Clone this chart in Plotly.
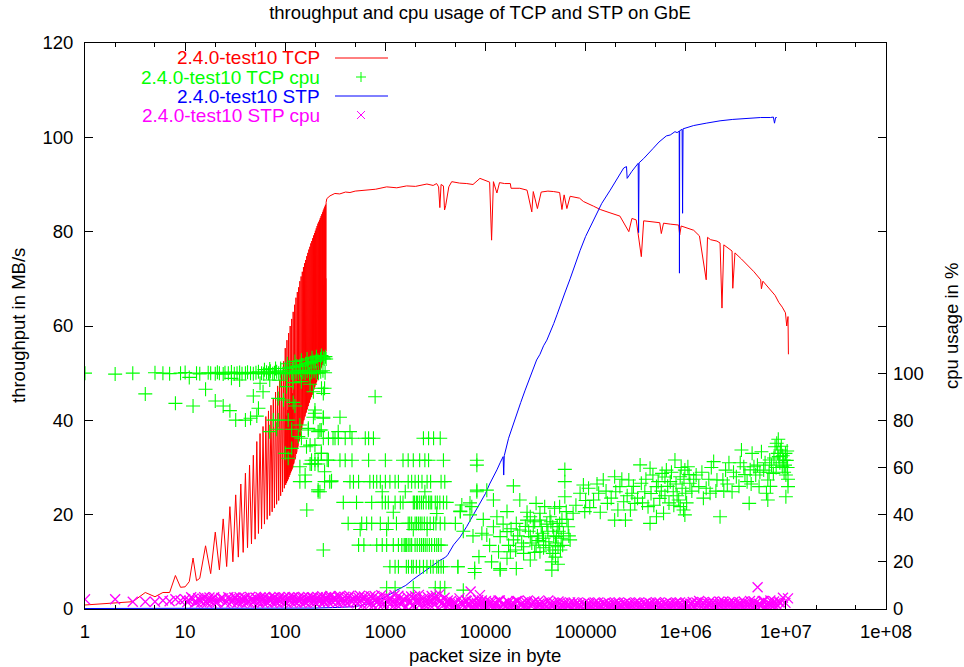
import plotly.graph_objects as go

# ---------------- data ----------------
TCP_X = [1, 2, 3, 4, 5, 6, 7, 8, 9, 10, 11, 12, 13, 14, 16, 18, 20, 22, 24, 26, 28, 30,
         32, 34, 36, 38, 40, 42, 44, 46, 48, 50, 52, 54, 56, 58, 60, 62, 64, 66, 68, 70,
         72, 74, 76, 78, 80, 82, 84, 86, 88, 90, 92, 94, 96, 98,
         100, 101, 102, 103, 104, 105, 106, 107, 108, 109, 110, 111, 112, 113, 114, 115,
         116, 117, 118, 119, 120, 121, 122, 123, 124, 125, 126, 127, 128, 129, 130, 131,
         132, 133, 134, 135, 136, 137, 138, 139, 140, 141, 142, 143, 144, 145, 146, 147,
         148, 149, 150, 151, 152, 153, 154, 155, 156, 157, 158, 159, 160, 161, 162, 163,
         164, 165, 166, 167, 168, 169, 170, 171, 172, 173, 174, 175, 176, 177, 178, 179,
         180, 181, 182, 183, 184, 185, 186, 187, 188, 189, 190, 191, 192, 193, 194, 195,
         196, 197, 198, 199, 200, 201, 202, 203, 204, 205, 206, 207, 208, 209, 210, 211,
         212, 213, 214, 215, 216, 217, 218, 219, 220, 221, 222, 223, 224, 225, 226, 227,
         228, 229, 230, 231, 232, 233, 234, 235, 236, 237, 238, 239, 240, 241, 242, 243,
         244, 245, 246, 247, 248, 249, 250, 251, 252, 253, 254, 255, 256,
         260, 280, 313, 350, 400, 443, 500, 650, 800, 1030, 1300, 1630, 2000, 2600, 3000,
         3250, 3400, 3500, 3600, 3800, 3900, 4000, 4300, 4600, 5500, 6500, 7500, 8800,
         10000, 11000, 11500, 12000, 13000, 13800, 15500, 17700, 18000, 22000, 26000,
         29000, 30000, 33000, 36000, 42000, 48000, 55000, 58000, 61000, 65000, 70000,
         87000, 95000, 120000, 140000, 175000, 220000, 270000, 290000, 320000, 360000,
         380000, 450000, 550000, 570000, 600000, 700000, 850000, 870000, 900000, 1.2e6,
         1.37e6, 1.6e6, 1.65e6, 1.77e6, 2.05e6, 2.2e6, 2.3e6, 2.4e6, 2.9e6, 2.95e6, 3.1e6,
         3.6e6, 4.2e6, 4.8e6, 5.6e6, 5.7e6, 5.9e6, 6.5e6, 7.0e6, 7.8e6, 8.5e6, 9.2e6,
         9.9e6, 1.02e7, 1.05e7, 1.06e7]
TCP_Y = [0.85, 1.3, 1.55, 3.5, 2.6, 3.5, 3.5, 7.1, 4.6, 4.7, 5.8, 10.8, 6.0, 6.5, 13.4, 7.5,
         16.3, 8.3, 19.1, 9.0, 21.7, 10.0, 24.2, 11.0, 26.5, 12.0, 28.8, 13.0, 30.5, 13.8,
         32.6, 14.8, 35.5, 16.0, 37.2, 17.0, 38.7, 18.0, 40.8, 19.0, 42.0, 19.8, 43.2, 20.6,
         44.5, 21.4, 46.0, 22.2, 47.3, 23.0, 48.6, 24.0, 50.0, 24.8, 52.5, 25.6,
         55.3, 26.3, 41.0, 26.7, 57.0, 27.1, 42.2, 27.5, 58.5, 28.0, 43.4, 28.4,
         60.0, 28.8, 44.5, 29.2, 61.5, 29.6, 45.7, 30.0, 63.0, 30.7, 47.0, 31.2,
         64.5, 31.7, 48.2, 32.3, 66.0, 32.9, 49.6, 33.5, 67.2, 34.2, 50.8, 34.8,
         68.2, 35.5, 52.0, 36.1, 69.5, 36.7, 53.2, 37.3, 70.5, 37.9, 54.3, 38.5,
         71.5, 39.0, 55.4, 39.5, 72.5, 40.0, 56.3, 40.4, 73.3, 40.8, 57.1, 41.2,
         74.0, 41.6, 57.9, 42.0, 74.8, 42.3, 58.6, 42.7, 75.5, 43.0, 59.3, 43.4,
         76.2, 43.7, 60.0, 44.1, 76.8, 44.4, 60.6, 44.7, 77.5, 44.9, 61.2, 45.2,
         78.0, 45.4, 61.7, 45.7, 78.6, 45.9, 62.3, 46.2, 79.2, 46.5, 62.9, 46.8,
         79.7, 47.1, 63.4, 47.4, 80.2, 47.6, 63.9, 47.9, 80.7, 48.1, 64.4, 48.4,
         81.2, 48.7, 65.0, 49.0, 81.7, 49.2, 65.5, 49.5, 82.1, 49.7, 66.0, 50.0,
         82.5, 50.2, 66.4, 50.5, 82.9, 50.7, 66.8, 51.0, 83.3, 51.2, 67.3, 51.5,
         83.7, 51.7, 67.7, 52.0, 84.1, 52.2, 68.2, 52.5, 84.5, 52.7, 68.6, 53.0,
         84.9, 53.2, 69.1, 53.5, 85.3, 53.7, 69.5, 54.0, 85.7, 54.3, 70.1, 54.6, 86.2,
         87.0, 87.6, 88.1, 88.0, 88.4, 88.3, 88.6, 88.8, 89.0, 89.5, 89.3, 89.7, 89.6, 90.1,
         89.8, 90.2, 89.5, 85.1, 90.0, 89.7, 84.6, 85.5, 89.5, 90.6, 90.3, 90.2, 90.0, 91.3,
         90.8, 90.5, 78.2, 90.6, 88.2, 90.4, 90.2, 90.2, 89.2, 89.2, 88.8, 84.2, 88.5, 84.9,
         88.4, 88.6, 88.5, 88.3, 84.7, 87.8, 84.9, 87.5, 87.1, 86.4, 85.4, 84.7, 84.0, 83.3,
         80.0, 82.8, 82.5, 74.7, 82.3, 82.1, 81.9, 79.6, 81.8, 81.6, 81.4, 79.3, 81.2, 80.3,
         79.1, 69.8, 78.8, 78.3, 78.0, 77.6, 63.8, 77.2, 75.9, 68.0, 75.5, 74.2, 72.8, 71.5,
         69.8, 67.9, 69.5, 68.5, 67.6, 66.5, 65.0, 64.0, 62.8, 60.0, 62.0, 54.0]

TCP_CPU_X = [1, 2, 3, 5, 6, 7, 9, 10, 13, 14, 17, 18, 20, 21, 22, 24, 25, 27, 29, 31, 33, 35,
             37, 40, 42, 45, 48, 51, 54, 58, 61, 65, 68, 71, 75, 78, 82, 86, 90, 95, 100, 105,
             110, 116, 122, 128, 135, 142, 150, 158, 166, 175, 184, 194, 204, 215, 226, 238, 250,
             62, 70, 80, 90, 100, 110, 120, 130, 140, 150, 160, 170, 180, 190, 200, 212, 225,
             240, 252, 256, 105, 125, 145, 165, 185, 205, 230, 245,
             4, 8, 11, 12, 16, 20, 24, 28, 29, 32, 35, 40, 45, 48, 52, 54, 56, 60, 70, 85, 89,
             96, 103, 120, 120, 125, 145, 177, 191, 240, 247,
             70, 76, 85, 82, 116, 135, 145, 140, 170, 163, 198, 213, 198, 191, 229, 240, 100,
             107, 116, 140, 158, 177, 198, 213, 229, 247, 262, 290, 213, 300, 107, 164, 240,
             222, 278, 230, 198, 240, 352, 170, 222, 338, 443, 177, 230, 183, 790,
             240, 270, 314, 339, 397, 464, 630, 680, 760, 2400, 2700, 3030, 3530,
             183, 198, 213, 270, 352, 397, 464, 680, 1000, 1500, 1690, 1900, 2200, 2480, 2700,
             3800, 8200,
             140, 158, 247, 289, 443, 480, 540, 700, 760, 820, 890, 1000, 1110, 1250, 1350,
             1690, 1830, 1980, 2140, 2320, 2610, 2830, 3600, 3920,
             213, 930, 1580, 2480, 8200,
             380, 515, 730, 930, 1000, 1070, 1250, 1410, 1500, 1900, 2040, 2200, 2400, 2700,
             2900, 3150, 3800, 4100, 5600, 7000, 1950, 2100, 2300, 2550, 2800, 3300, 3500,
             425, 580, 650, 730, 890, 1070, 1290, 1690, 1830, 1980, 2140, 2320, 2610, 3030,
             3530, 3920, 1750, 2050, 2230, 2450, 2800, 3200, 1200, 3260,
             560, 1030, 1900, 2610,
             540, 610, 820, 930, 1030, 1200, 1350, 1460, 1580, 1690, 1830, 1980, 2200, 2400,
             2610, 2900, 3260, 3600, 6000, 7500, 1540, 1620, 1760, 2080, 2300, 2500, 2750,
             3100, 3400,
             1110, 1250, 1350, 1620, 1830, 2040, 2400, 2830, 3260, 3600, 5300, 7800, 1700,
             1900, 2200, 2600, 3000, 3400, 3800,
             1030, 1250, 1900, 3150, 3530, 3920, 6000,
             8200, 19000, 62000, 62000, 8600, 11500, 14000, 7800, 5300, 20300, 46000, 46000,
             5800, 7300, 8200, 10300, 12000, 16400, 22000, 32000, 35000, 49000, 62000, 75000,
             98000, 12000, 14000, 16400, 19000, 22000, 24000, 26000, 28000, 30000, 32000,
             35000, 37000, 40000, 44000, 47000, 51000, 53000, 55000, 60000, 64000, 67000,
             70000, 17700, 24000, 35000, 47000, 13000, 10300, 9200, 20300, 28000, 39000,
             55000, 13500, 16400, 28000, 5000, 5600, 7000, 14000,
             15000, 18000, 21000, 23000, 25000, 27000, 29000, 31000, 33000, 34000, 36000,
             38000, 42000, 43000, 45000, 48000, 50000, 52000, 54000, 57000, 58000, 59000,
             65000, 68000, 41000, 26000, 17000, 20000, 31000, 38000, 44000, 50000, 56000,
             53000, 11000, 9500,
             88000, 95000, 107000, 120000, 135000, 150000, 165000, 195000, 200000, 220000,
             240000, 250000, 270000, 290000, 310000, 350000, 360000, 390000, 420000, 440000,
             470000, 510000, 550000, 600000, 640000, 700000, 750000, 780000, 850000, 880000,
             920000, 950000, 980000, 1.0e6, 1.05e6, 1.1e6, 980000, 510000, 195000, 440000,
             580000, 880000,
             80000, 100000, 110000, 130000, 140000, 160000, 180000, 210000, 230000, 260000,
             280000, 300000, 330000, 370000, 400000, 450000, 480000, 530000, 570000, 620000,
             660000, 680000, 720000, 800000, 820000, 900000, 960000, 1.02e6, 1.08e6, 1.15e6,
             1.2e6, 620000, 760000,
             1.27e6, 1.6e6, 1.9e6, 2.2e6, 2.35e6, 2.5e6, 2.9e6, 3.2e6, 3.6e6, 3.8e6, 4.1e6,
             4.3e6, 4.6e6, 5.0e6, 5.4e6, 5.7e6, 6.0e6, 6.4e6, 6.6e6, 6.9e6, 7.5e6, 7.8e6,
             8.1e6, 8.5e6, 8.8e6, 9.2e6, 9.5e6, 1.0e7, 1.05e7, 1.0e7, 9.9e6, 6.6e6, 4.8e6,
             2.05e6, 1.75e6, 1.35e6,
             1.45e6, 1.5e6, 1.7e6, 1.8e6, 2.0e6, 2.4e6, 2.6e6, 2.7e6, 3.0e6, 3.4e6, 3.5e6,
             3.9e6, 4.4e6, 4.5e6, 5.2e6, 5.5e6, 6.2e6, 6.8e6, 7.2e6, 7.0e6, 8.0e6, 8.3e6,
             8.7e6, 9.0e6, 9.3e6, 9.6e6, 9.8e6, 1.02e7, 1.04e7, 8.4e6, 7.6e6, 1.05e7, 1.03e7]
TCP_CPU_Y = [100.0, 99.6, 100.0, 100.2, 100.0, 99.8, 100.0, 100.3, 100.0, 99.7, 100.2, 100.0,
             99.8, 100.4, 100.0, 99.6, 100.2, 100.0, 100.5, 99.8, 100.0, 100.3, 99.7, 100.0,
             100.4, 100.0, 99.8, 100.2, 100.6, 100.0, 99.7, 100.4, 100.0, 100.8, 99.8, 100.2,
             100.6, 100.0, 101.0, 99.8, 100.4, 100.0, 101.0, 100.2, 99.8, 100.6, 100.0, 101.2,
             100.4, 100.0, 100.8, 99.8, 100.4, 101.0, 100.2, 100.0, 100.6, 101.0, 100.2,
             101.5, 101.8, 102.0, 102.0, 102.0, 102.5, 102.5, 103.0, 103.0, 103.5, 104.0,
             104.0, 104.5, 105.0, 105.0, 105.5, 106.0, 106.5, 107.0, 106.0, 104.0, 105.0,
             105.5, 106.0, 106.5, 107.0, 107.5, 106.0,
             91.2, 87.2, 98.2, 86.1, 93.2, 88.2, 86.1, 84.1, 97.8, 80.1, 97.1, 80.1, 80.9,
             90.3, 81.8, 85.1, 95.7, 92.1, 97.1, 89.3, 97.0, 88.6, 94.3, 96.0, 87.6, 86.1,
             96.4, 95.3, 92.1, 91.4, 93.6,
             75.2, 80.1, 80.1, 76.2, 76.2, 73.1, 72.4, 78.0, 75.9, 68.8, 69.5, 75.2, 83.0,
             81.3, 75.9, 81.3, 66.0, 63.9, 68.1, 60.3, 56.8, 61.5, 61.5, 61.5, 66.0, 58.2,
             63.2, 54.4, 50.5, 72.4, 80.1, 42.0, 25.0, 49.7, 54.0, 93.6, 84.4, 80.9, 81.3,
             76.6, 75.9, 75.2, 75.2, 69.5, 66.0, 61.5, 90.0,
             72.4, 72.4, 72.4, 72.4, 72.4, 72.4, 72.4, 72.4, 72.4, 72.4, 72.4, 72.4, 72.4,
             63.1, 63.1, 63.1, 63.1, 63.1, 63.1, 63.1, 63.1, 63.1, 63.1, 63.1, 63.1, 63.1,
             63.1, 63.1, 63.1, 63.1,
             54.0, 54.0, 54.0, 54.0, 54.0, 54.0, 54.0, 54.0, 54.0, 54.0, 54.0, 54.0, 54.0,
             54.0, 54.0, 54.0, 54.0, 54.0, 54.0, 54.0, 54.0, 54.0, 54.0, 54.0,
             49.7, 49.7, 49.7, 49.7, 49.7,
             45.2, 45.2, 45.2, 45.2, 45.2, 45.2, 45.2, 45.2, 45.2, 45.2, 45.2, 45.2, 45.2,
             45.2, 45.2, 45.2, 45.2, 45.2, 41.5, 45.0, 45.2, 45.2, 45.2, 45.2, 45.2, 45.2,
             45.2,
             36.3, 36.3, 36.3, 36.3, 36.3, 36.3, 36.3, 36.3, 36.3, 36.3, 36.3, 36.3, 36.3,
             36.3, 36.3, 36.3, 36.3, 36.3, 36.3, 36.3, 36.3, 36.3, 41.0, 40.5,
             33.7, 33.7, 33.7, 33.7,
             27.1, 27.1, 27.1, 27.1, 27.1, 27.1, 27.1, 27.1, 27.1, 27.1, 27.1, 27.1, 27.1,
             27.1, 27.1, 27.1, 27.1, 27.1, 33.0, 31.0, 27.1, 27.1, 27.1, 27.1, 27.1, 27.1,
             27.1, 27.1, 27.1,
             17.9, 17.9, 17.9, 17.9, 17.9, 17.9, 17.9, 17.9, 17.9, 17.9, 17.9, 15.5, 17.9,
             17.9, 17.9, 17.9, 17.9, 17.9, 17.9,
             9.0, 9.0, 9.0, 9.0, 9.0, 9.0, 8.0,
             61.0, 52.2, 59.2, 54.0, 22.2, 20.0, 17.2, 17.2, 17.9, 17.2, 16.5, 20.0, 44.1,
             43.4, 50.4, 50.4, 46.2, 41.3, 46.2, 44.8, 40.6, 42.7, 47.6, 40.6, 41.3, 34.9,
             30.7, 32.8, 29.3, 33.5, 26.4, 37.7, 30.7, 34.9, 27.1, 37.7, 32.1, 28.5, 39.1,
             34.9, 30.7, 26.4, 36.3, 32.1, 41.3, 34.9, 29.3, 24.3, 23.6, 24.3, 23.6, 39.1,
             31.4, 32.1, 36.3, 39.1, 43.4, 43.4, 24.3, 21.5, 20.8, 36.3, 41.3, 39.9, 16.5,
             36.0, 34.0, 31.0, 28.0, 35.0, 33.0, 28.0, 37.0, 31.0, 29.0, 35.0, 30.0, 33.0,
             27.0, 37.0, 31.0, 28.0, 35.0, 33.0, 30.0, 38.0, 27.0, 38.0, 31.0, 36.0, 41.0,
             27.0, 25.0, 24.0, 26.0, 25.0, 22.0, 25.0, 19.0, 27.0, 38.0,
             49.1, 52.6, 51.2, 46.2, 49.1, 54.7, 44.8, 56.1, 49.7, 51.9, 45.5, 37.7, 54.7,
             49.1, 44.8, 61.1, 53.3, 49.7, 43.4, 36.3, 56.8, 51.9, 46.9, 40.6, 58.9, 54.0,
             49.7, 63.2, 46.2, 56.1, 51.2, 42.0, 58.9, 49.1, 60.3, 53.3, 39.9, 39.1, 37.7,
             59.7, 57.5, 43.4,
             44.0, 46.0, 43.0, 53.0, 41.0, 50.0, 47.0, 42.0, 55.0, 48.0, 42.0, 52.0, 47.0,
             45.0, 55.0, 49.0, 44.0, 54.0, 50.0, 48.0, 52.0, 45.0, 58.0, 53.0, 48.0, 60.0,
             55.0, 45.0, 57.0, 50.0, 55.0, 56.0, 44.0,
             56.8, 51.2, 62.5, 39.1, 54.7, 58.9, 49.7, 56.1, 67.4, 60.3, 54.0, 44.8, 66.0,
             56.8, 51.9, 66.7, 58.9, 49.1, 46.2, 63.2, 57.5, 68.8, 70.3, 64.6, 67.4, 60.3,
             63.2, 56.8, 51.9, 47.6, 66.0, 54.7, 60.3, 54.7, 49.1, 51.9,
             58.0, 47.0, 55.0, 60.0, 50.0, 50.0, 53.0, 62.0, 58.0, 52.0, 62.0, 57.0, 59.0,
             53.0, 61.0, 58.0, 62.0, 58.0, 61.0, 52.0, 60.0, 66.0, 62.0, 69.0, 65.0, 58.0,
             61.0, 63.0, 60.0, 72.0, 64.0, 55.0, 67.0]

STP_X = [1, 10, 100, 200, 300, 400, 500, 700, 1000, 1300, 1600, 1900, 2400, 3000, 3500,
         4000, 4200, 4800, 5600, 6500, 7500, 8500, 9000, 10000, 11000, 12000, 13000, 14000,
         15000, 15200, 15400, 17000, 18500, 20400, 22500, 24900, 27000, 28700, 30000, 32400,
         35000, 38000, 41000, 44000, 48000, 52000, 56000, 62000, 70000, 78000, 88000, 100000,
         121000, 145000, 176000, 210000, 240000, 256000, 260000, 290000, 320000, 335000,
         338000, 342000, 380000, 410000, 470000, 540000, 640000, 700000, 780000, 820000,
         860000, 865000, 870000, 920000, 930000, 940000, 980000, 1.2e6, 1.6e6, 2.2e6,
         2.95e6, 4e6, 5.6e6, 7e6, 7.5e6, 7.7e6, 7.9e6, 8.1e6]
STP_Y = [0.1, 0.1, 0.15, 0.2, 0.3, 0.4, 0.5, 1.2, 2.5, 4.0, 5.0, 6.3, 7.8, 9.4, 10.3, 11.0,
         11.5, 13.6, 15.3, 17.5, 19.8, 22.0, 22.8, 24.5, 26.5, 28.0, 29.5, 31.0, 32.3, 28.4,
         32.5, 36.2, 38.5, 41.5, 43.8, 46.4, 48.5, 50.0, 51.0, 52.8, 54.0, 55.8, 57.0, 58.5,
         60.5, 62.5, 64.5, 67.0, 70.0, 73.0, 76.0, 79.0, 82.5, 86.0, 88.8, 91.5, 93.5, 93.8,
         91.3, 92.8, 94.0, 94.5, 79.8, 94.6, 95.5, 96.2, 97.6, 99.0, 100.3, 100.5, 101.2,
         101.0, 101.3, 71.2, 101.4, 101.7, 83.9, 101.8, 101.9, 102.5, 103.0, 103.5, 103.8,
         104.0, 104.2, 104.2, 104.3, 103.0, 104.2, 104.2]

STP_CPU_X = [1, 2, 3, 4, 5, 6, 7, 8, 9, 10, 11, 12, 13, 14, 15, 16, 17, 18, 19, 20, 22, 24,
             26, 28, 30, 32, 34, 36, 38, 40, 43, 46, 49, 52, 55, 58, 61, 64, 68, 72, 76, 80,
             85, 90, 95, 100, 106, 112, 118, 125, 132, 140, 148, 156, 165, 174, 184, 194, 205,
             216, 228, 240, 252,
             262, 275, 290, 305, 320, 340, 360, 380, 400, 425, 450, 480, 510, 540, 575, 610,
             650, 690, 730, 780, 830, 880, 940, 1000,
             1060, 1130, 1200, 1270, 1350, 1430, 1520, 1610, 1710, 1810, 1920, 2040, 2160,
             2290, 2430, 2580, 2740, 2900, 3080, 3270, 3470, 3680, 3900, 4100, 4200,
             4400, 4650, 4900, 5200, 5500, 5800, 6200, 6500, 6900, 7300, 7800, 8200, 8700,
             9200, 9800, 10400, 11000, 11700, 12400, 13100, 13900, 14800, 15700, 16600,
             17600, 18700, 19800, 21000, 22300, 23600, 25000, 26500, 28100, 29800, 31600,
             33500, 35500, 37700, 40000, 42400, 45000, 47700, 50500, 53600, 7100, 8800,
             57000, 60000, 64000, 68000, 72000, 76000, 81000, 86000, 91000, 97000, 103000,
             109000, 116000, 123000, 130000, 138000, 146000, 155000, 165000, 175000, 185000,
             196000, 208000, 221000, 234000, 248000, 263000, 279000, 296000, 314000, 333000,
             353000, 374000, 397000, 421000, 446000, 473000, 502000, 532000, 564000, 598000,
             634000, 673000, 713000, 756000, 802000, 850000, 902000, 956000, 1.01e6, 1.08e6,
             1.14e6, 1.21e6, 1.28e6,
             1.36e6, 1.44e6, 1.53e6, 1.62e6, 1.72e6, 1.82e6, 1.93e6, 2.05e6, 2.17e6, 2.3e6,
             2.44e6, 2.59e6, 2.74e6, 2.91e6, 3.08e6, 3.27e6, 3.47e6, 3.68e6, 3.9e6, 4.13e6,
             4.38e6, 4.65e6, 4.93e6, 5.22e6, 5.54e6, 5.87e6, 6.22e6, 6.6e6, 6.6e6, 7.0e6,
             7.4e6, 7.85e6, 8.3e6, 8.8e6, 9.35e6, 9.9e6, 1.05e7,
             10.5, 11.5, 12.5, 13.5, 14.5, 15.5, 16.5, 17.5, 18.5, 19.5, 21, 23, 25, 27, 29,
             31, 33, 35, 37, 39, 41.5, 44.5, 47.5, 50.5, 53.5, 56.5, 59.5, 62.5, 66, 70, 74,
             78, 82.5, 87.5, 92.5, 97.5, 103, 109, 115, 121.5, 128.5, 136, 144, 152, 160.5,
             169.5, 179, 189, 199.5, 210.5, 222, 234, 246, 256,
             268, 282, 297, 312, 330, 350, 370, 390, 412, 437, 465, 495, 525, 557, 592, 630,
             670, 710, 755, 805, 855, 910, 970,
             1030, 1095, 1165, 1235, 1310, 1390, 1475, 1565, 1660, 1760, 1865, 1980, 2100,
             2225, 2360, 2505, 2660, 2820, 2990, 3175, 3370, 3575, 3790, 4000, 4150,
             4520, 4780, 5050, 5350, 5650, 6000, 6350, 6700, 7100, 7550, 8000, 8450, 8950,
             9500, 10100, 10700, 11350, 12050, 12750, 13500, 14350, 15250, 16150, 17100,
             18150, 19250, 20400, 21650, 22950, 24300, 25750, 27300, 28950, 30700, 32550,
             34500, 36600, 38850, 41200, 43700, 46350, 49100, 52000, 55000,
             58500, 62000, 66000, 70000, 74000, 78500, 83500, 88500, 94000, 100000, 106000,
             112500, 119500, 126500, 134000, 142000, 150500, 160000, 170000, 180000, 190500,
             202000, 214500, 227500, 241000, 255500, 271000, 287500, 305000, 323500, 343000,
             363500, 385500, 409000, 433500, 459500, 487500, 517000, 548000, 581000, 616000,
             653500, 693000, 734500, 779000, 826000, 876000, 929000, 985000, 1.045e6, 1.11e6,
             1.175e6, 1.245e6, 1.32e6, 1.4e6, 1.485e6, 1.575e6, 1.67e6, 1.77e6, 1.875e6,
             1.99e6, 2.11e6, 2.235e6, 2.37e6, 2.51e6, 2.665e6, 2.825e6, 2.995e6, 3.175e6,
             3.37e6, 3.575e6, 3.79e6, 4.015e6, 4.255e6, 4.515e6, 4.79e6, 5.075e6, 5.38e6,
             5.705e6, 6.045e6, 6.41e6, 6.8e6, 7.2e6, 7.62e6, 8.05e6, 8.55e6, 9.1e6, 9.6e6,
             1.02e7, 1.06e7]
STP_CPU_Y = [4.1, 4.1, 3.1, 3.1, 3.1, 3.6, 3.3, 4.1, 3.6, 4.1, 3.5, 4.3, 3.0, 3.8, 4.4, 3.2,
             4.0, 3.4, 4.6, 3.0, 3.9, 4.5, 3.2, 4.2, 3.6, 4.8, 3.0, 4.1, 3.5, 4.6, 3.1, 4.0,
             3.4, 4.5, 3.0, 3.9, 4.7, 3.3, 4.2, 3.6, 4.8, 3.1, 4.0, 3.5, 4.5, 3.0, 4.2, 3.6,
             4.9, 3.2, 4.1, 3.5, 4.6, 3.0, 4.3, 3.7, 4.9, 3.3, 4.2, 3.6, 4.7, 3.1, 4.4,
             3.8, 5.0, 3.4, 4.6, 3.9, 5.2, 3.5, 4.4, 3.2, 4.9, 3.7, 4.2, 3.1, 4.8, 3.6, 5.3,
             3.3, 4.4, 2.5, 5.5, 3.0, 4.2, 1.8, 5.0,
             2.6, 4.5, 1.2, 3.4, 5.6, 2.0, 4.1, 0.8, 3.0, 5.3, 1.6, 3.8, 6.0, 2.4, 4.6, 1.0,
             3.2, 5.5, 1.8, 4.0, 6.2, 2.6, 4.8, 1.2, 3.6,
             2.0, 0.6, 3.0, 1.4, 4.5, 2.4, 0.8, 3.4, 1.8, 3.0, 0.5, 2.6, 1.2, 3.6, 2.0, 0.6,
             3.2, 1.6, 2.8, 0.8, 3.6, 2.0, 1.0, 3.2, 1.6, 2.6, 0.6, 3.4, 1.8, 2.8, 0.8, 3.6,
             1.6, 2.8, 0.6, 3.2, 1.8, 2.6, 0.8, 3.6, 1.4, 2.8, 0.6, 3.2, 7.4, 5.9,
             1.4, 2.6, 0.4, 2.0, 1.0, 2.8, 0.4, 1.8, 1.0, 2.6, 0.5, 2.2, 1.2, 2.8, 0.4, 1.8,
             1.0, 2.6, 0.5, 2.0, 1.2, 2.8, 0.4, 1.8, 1.0, 2.6, 0.5, 2.2, 1.2, 2.8, 0.4, 1.8,
             1.0, 2.6, 0.5, 2.2, 1.2, 2.9, 0.4, 1.8, 1.0, 2.6, 0.5, 2.2, 1.2, 2.8, 0.4, 1.8,
             1.0, 2.6, 0.5, 2.2, 1.2, 2.8,
             3.4, 0.8, 2.2, 1.2, 3.0, 0.5, 2.0, 1.2, 3.2, 0.6, 2.4, 1.2, 3.0, 0.5, 2.0, 1.2,
             2.8, 0.6, 2.4, 1.2, 3.4, 0.6, 2.2, 9.2, 1.2, 3.4, 0.6, 2.6, 1.2, 3.6, 0.8, 2.4,
             1.4,
             2.8, 4.8, 2.6, 4.5, 2.9, 5.0, 2.7, 4.6, 2.8, 5.0, 2.6, 4.9, 2.7, 5.0, 2.8, 4.7,
             2.6, 5.0, 2.8, 4.9, 2.7, 5.0, 2.6, 4.8, 2.8, 5.1, 2.7, 4.9, 2.6, 5.0, 2.8, 5.1,
             2.7, 4.8, 2.6, 5.0, 2.8, 5.1, 2.7, 4.9, 2.6, 5.0, 2.8, 5.1, 2.7, 4.9, 2.6, 5.0,
             2.8, 5.1, 2.7, 4.9, 2.6, 5.0,
             3.2, 5.4, 2.8, 5.0, 3.0, 5.5, 2.9, 5.0, 2.7, 5.4, 2.8, 5.2, 2.6, 5.6, 2.9, 4.9,
             2.4, 5.6, 1.6, 4.6, 2.2, 5.4, 1.4,
             4.0, 1.8, 5.8, 2.6, 0.6, 4.4, 3.0, 5.8, 1.6, 4.4, 2.6, 0.6, 5.0, 3.0, 1.4, 5.4,
             2.2, 4.2, 0.8, 3.0, 5.0, 1.4, 3.8, 5.6, 0.6,
             3.6, 1.6, 0.4, 2.6, 3.4, 1.6, 2.4, 0.6, 2.8, 1.6, 3.6, 2.2, 0.4, 2.8, 1.4, 3.8,
             2.4, 0.6, 3.4, 1.8, 2.6, 0.4, 2.2, 3.6, 0.8, 2.2, 1.2, 2.8, 0.4, 2.2, 3.4, 0.6,
             2.2, 1.2, 2.6, 0.4, 2.2, 3.2, 1.2, 2.2, 0.4, 2.0, 1.2, 2.4,
             0.8, 2.2, 1.4, 2.6, 0.6, 2.2, 1.4, 2.8, 0.5, 1.8, 2.8, 0.8, 2.0, 1.4, 2.6, 0.6,
             2.2, 1.4, 2.8, 0.6, 2.4, 1.4, 2.6, 0.6, 2.2, 1.4, 2.8, 0.6, 2.2, 1.4, 2.6, 0.6,
             2.2, 1.4, 2.8, 0.6, 2.2, 1.4, 2.6, 0.6, 2.2, 1.4, 2.8, 0.6, 2.2, 1.4, 2.6, 0.6,
             2.2, 1.4, 2.8, 0.6, 2.2, 1.4, 2.2, 3.0, 0.6, 2.2, 1.4, 2.8, 0.4, 2.2, 1.6, 3.0,
             0.6, 2.0, 1.6, 3.2, 0.6, 2.0, 1.6, 3.0, 0.6, 2.2, 1.6, 3.2, 0.6, 2.0, 1.6, 3.2,
             0.6, 2.2, 1.6, 3.4, 0.6, 2.2, 1.6, 3.2, 0.6, 2.8]

X_TICKS = [1, 10, 100, 1000, 10000, 100000, 1e6, 1e7, 1e8]
X_TICK_TEXT = ["1", "10", "100", "1000", "10000", "100000", "1e+06", "1e+07", "1e+08"]
X_MINOR = [2, 5, 20, 50, 200, 500, 2000, 5000, 2e4, 5e4, 2e5, 5e5, 2e6, 5e6, 2e7, 5e7]
Y_TICKS = [0, 20, 40, 60, 80, 100, 120]
Y2_TICKS = [0, 20, 40, 60, 80, 100]

NAMES = ["2.4.0-test10 TCP", "2.4.0-test10 TCP cpu", "2.4.0-test10 STP", "2.4.0-test10 STP cpu"]
COLORS = ["#ff0000", "#00ff00", "#0000ff", "#ff00ff"]

# ---------------- figure ----------------
FONT = "Liberation Sans, Arial, Helvetica, sans-serif"
FS = 18.5
W, H = 964, 667
L, R, T, B = 85, 78, 43, 58


def pxx(x):
    return (x - L) / (W - L - R)


def pyy(y):
    return (H - B - y) / (H - T - B)


fig = go.Figure()
fig.add_trace(go.Scatter(x=TCP_X, y=TCP_Y, mode="lines", name=NAMES[0],
                         line=dict(color=COLORS[0], width=1)))
fig.add_trace(go.Scatter(x=TCP_CPU_X, y=TCP_CPU_Y, mode="markers", name=NAMES[1], yaxis="y2",
                         marker=dict(symbol="cross-thin", size=10,
                                     line=dict(color=COLORS[1], width=1.1))))
fig.add_trace(go.Scatter(x=STP_X, y=STP_Y, mode="lines", name=NAMES[2],
                         line=dict(color=COLORS[2], width=1)))
fig.add_trace(go.Scatter(x=STP_CPU_X, y=STP_CPU_Y, mode="markers", name=NAMES[3], yaxis="y2",
                         marker=dict(symbol="x-thin", size=10,
                                     line=dict(color=COLORS[3], width=1.3))))

annotations = []
shapes = []
rows = [58, 77, 96, 115]
for i, (nm, col) in enumerate(zip(NAMES, COLORS)):
    yy = rows[i]
    annotations.append(dict(text=nm, xref="paper", yref="paper", x=pxx(322), y=pyy(yy),
                            xanchor="right", yanchor="middle", showarrow=False,
                            font=dict(color=col, size=19, family=FONT)))
    if i in (0, 2):
        shapes.append(dict(type="line", xref="paper", yref="paper", x0=pxx(335), x1=pxx(388),
                           y0=pyy(yy), y1=pyy(yy), line=dict(color=col, width=1)))
    elif i == 1:
        shapes.append(dict(type="line", xref="paper", yref="paper", x0=pxx(356), x1=pxx(366),
                           y0=pyy(yy), y1=pyy(yy), line=dict(color=col, width=1)))
        shapes.append(dict(type="line", xref="paper", yref="paper", x0=pxx(361), x1=pxx(361),
                           y0=pyy(yy - 5), y1=pyy(yy + 5), line=dict(color=col, width=1)))
    else:
        shapes.append(dict(type="line", xref="paper", yref="paper", x0=pxx(357), x1=pxx(365),
                           y0=pyy(yy - 4), y1=pyy(yy + 4), line=dict(color=col, width=1)))
        shapes.append(dict(type="line", xref="paper", yref="paper", x0=pxx(357), x1=pxx(365),
                           y0=pyy(yy + 4), y1=pyy(yy - 4), line=dict(color=col, width=1)))

annotations.append(dict(text="packet size in byte", xref="paper", yref="paper",
                        x=pxx(485), y=pyy(655), xanchor="center", yanchor="middle",
                        showarrow=False, font=dict(size=FS, family=FONT)))
annotations.append(dict(text="throughput in MB/s", xref="paper", yref="paper",
                        x=pxx(18), y=pyy(326), xanchor="center", yanchor="middle",
                        textangle=-90, showarrow=False, font=dict(size=FS, family=FONT)))
annotations.append(dict(text="cpu usage in %", xref="paper", yref="paper",
                        x=pxx(951), y=pyy(326), xanchor="center", yanchor="middle",
                        textangle=-90, showarrow=False, font=dict(size=FS, family=FONT)))

axis_common = dict(showgrid=False, zeroline=False, ticks="inside", ticklen=8, tickwidth=1,
                   tickcolor="black", linecolor="black", linewidth=1,
                   tickfont=dict(size=FS, family=FONT, color="black"))

fig.update_layout(
    width=W, height=H, margin=dict(l=L, r=R, t=T, b=B),
    plot_bgcolor="white", paper_bgcolor="white", showlegend=False,
    font=dict(family=FONT, size=FS, color="black"),
    title=dict(text="throughput and cpu usage of TCP and STP on GbE", x=480 / W,
               xanchor="center", y=1 - 13 / H, yanchor="middle",
               font=dict(size=FS, family=FONT, color="black")),
    xaxis=dict(type="log", range=[0, 8], tickvals=X_TICKS, ticktext=X_TICK_TEXT,
               showline=True, mirror="ticks", ticklabelstandoff=6,
               minor=dict(ticks="inside", ticklen=4, tickvals=X_MINOR, tickcolor="black",
                          showgrid=False),
               **axis_common),
    yaxis=dict(range=[0, 120], tickvals=Y_TICKS, showline=True, mirror="ticks",
               ticklabelstandoff=7, **axis_common),
    yaxis2=dict(range=[0, 240], tickvals=Y2_TICKS, overlaying="y", side="right",
                showline=False, ticklabelstandoff=6, **axis_common),
    annotations=annotations, shapes=shapes,
)

fig.write_html("out.html", config={"displayModeBar": False},
               post_script="document.body.style.margin='0px';")
